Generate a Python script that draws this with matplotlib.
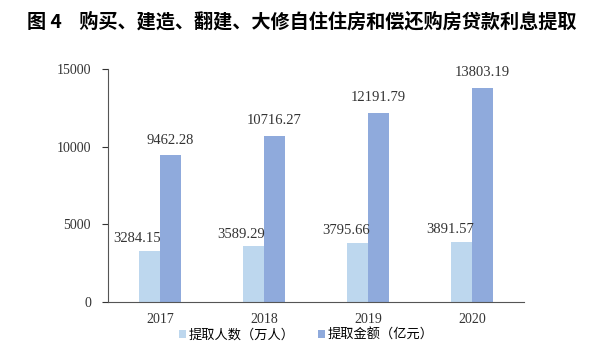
import matplotlib.pyplot as plt
import numpy as np

plt.rcParams['font.family'] = ['Liberation Serif', 'Noto Sans CJK SC']

years = ['2017', '2018', '2019', '2020']
people = [3284.15, 3589.29, 3795.66, 3891.57]  # 提取人数（万人）
amount = [9462.28, 10716.27, 12191.79, 13803.19]  # 提取金额（亿元）
people_labels = ['3284.15', '3589.29', '3795.66', '3891.57']
amount_labels = ['9462.28', '10716.27', '12191.79', '13803.19']

fig = plt.figure(figsize=(5.89, 3.52), dpi=100)
ax = fig.add_axes([0.183, 0.142, 0.707, 0.662])

x = np.arange(len(years))
w = 0.2
b1 = ax.bar(x - w / 2, people, w, color='#BDD7EE', label='提取人数（万人）')
b2 = ax.bar(x + w / 2, amount, w, color='#8FAADC', label='提取金额（亿元）')

# data labels
for bar, lab in zip(b1, people_labels):
    ax.annotate(lab, (bar.get_x() + bar.get_width(), bar.get_height()),
                xytext=(1, 4), textcoords='offset points', ha='right', va='bottom',
                fontsize=10.5, color='#333333')
for bar, lab in zip(b2, amount_labels):
    ax.annotate(lab, (bar.get_x() + bar.get_width() / 2, bar.get_height()),
                xytext=(0, 6), textcoords='offset points', ha='center', va='bottom',
                fontsize=10.5, color='#333333')

ax.set_xlim(-0.5, 3.5)
ax.set_ylim(0, 15000)
ax.set_yticks([0, 5000, 10000, 15000])
ax.set_xticks(x)
ax.set_xticklabels(years)
ax.tick_params(axis='x', length=0, pad=8, labelsize=10, colors='#333333')
ax.tick_params(axis='y', length=4, pad=8, labelsize=10, colors='#333333')
for s in ['top', 'right']:
    ax.spines[s].set_visible(False)
ax.spines['left'].set_color('#555555')
ax.spines['bottom'].set_color('#555555')

fig.legend(handles=[b1, b2], loc='center', bbox_to_anchor=(0.52, 0.048), ncol=2,
           frameon=False, handlelength=0.5, handleheight=0.5, columnspacing=1.8,
           handletextpad=0.2, prop={'family': ['Noto Sans CJK SC'], 'size': 9.5})

fig.text(0.512, 0.937, '图 4    购买、建造、翻建、大修自住住房和偿还购房贷款利息提取',
         ha='center', va='center', fontsize=13.8, fontweight='bold',
         family=['Noto Sans CJK SC'])

fig.savefig('out.png', dpi=100)
